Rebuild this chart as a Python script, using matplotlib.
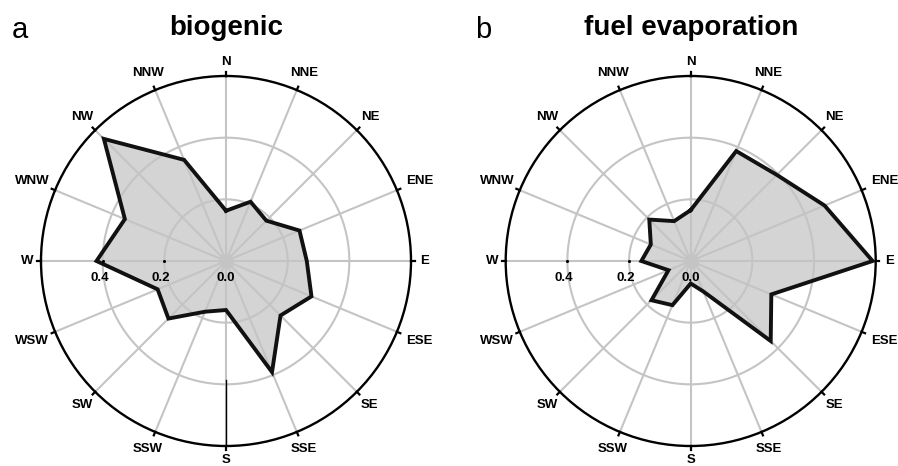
import numpy as np
import matplotlib
matplotlib.use("Agg")
import matplotlib.pyplot as plt

plt.rcParams['font.family'] = ['Liberation Sans', 'DejaVu Sans']

directions = ['N', 'NNE', 'NE', 'ENE', 'E', 'ESE', 'SE', 'SSE',
              'S', 'SSW', 'SW', 'WSW', 'W', 'WNW', 'NW', 'NNW']
biogenic = [0.163, 0.208, 0.185, 0.258, 0.262, 0.30, 0.25, 0.39,
            0.159, 0.178, 0.264, 0.24, 0.42, 0.355, 0.56, 0.355]
fuel_evaporation = [0.165, 0.386, 0.395, 0.47, 0.59, 0.283, 0.367, 0.107,
                    0.073, 0.155, 0.18, 0.078, 0.16, 0.14, 0.19, 0.14]
tick_values = [0.4, 0.2, 0.0]
tick_labels = ['0.4', '0.2', '0.0']
titles = ['biogenic', 'fuel evaporation']
letters = ['a', 'b']
rmax = 0.6

fig = plt.figure(figsize=(8.98, 4.66), dpi=100)
W, H = 898, 466
R = 185
centers = [(226, 261), (690.7, 261)]
grid_c = '#c4c4c4'

theta = np.deg2rad(np.arange(16) * 22.5)

for k, (vals, title, letter) in enumerate(zip([biogenic, fuel_evaporation], titles, letters)):
    cx, cy = centers[k]
    ax = fig.add_axes([(cx - R) / W, (H - cy - R) / H, 2 * R / W, 2 * R / H], polar=True)
    ax.set_theta_zero_location('N')
    ax.set_theta_direction(-1)
    ax.set_ylim(0, rmax)
    ax.grid(False)
    ax.set_xticks([])
    ax.set_yticks([])
    ax.spines['polar'].set_linewidth(1.7)
    ax.spines['polar'].set_color('black')

    v = np.array(vals)
    th = np.append(theta, theta[0])
    rv = np.append(v, v[0])
    ax.fill(th, rv, color='#d4d4d4', zorder=1, lw=0)

    # grid circles
    tt = np.linspace(0, 2 * np.pi, 400)
    for rr in [0.2, 0.4]:
        ax.plot(tt, np.full_like(tt, rr), color=grid_c, lw=1.5, zorder=2)
    # spokes
    for t in theta:
        ax.plot([t, t], [0, rmax], color=grid_c, lw=1.5, zorder=2)
    # centre disk
    ax.scatter([0], [0], s=120, color=grid_c, zorder=2, lw=0)

    ax.plot(th, rv, color='#111111', lw=2.8, zorder=4, solid_joinstyle='miter')

    # outer tick marks
    for t in theta:
        ax.plot([t, t], [rmax, rmax * 1.02], color='black', lw=1.6, zorder=5, clip_on=False)

    # direction labels
    for t, lab in zip(theta, directions):
        if lab in ('N', 'S'):
            rr = 0.645
        elif lab in ('E', 'W'):
            rr = 0.645
        elif len(lab) == 3 and lab[0] in 'EW':
            rr = 0.68
        else:
            rr = 0.66
        ax.text(t, rr, lab, ha='center', va='center', fontsize=9.5, fontweight='bold',
                clip_on=False, zorder=6)

    # radial tick labels on the W spoke
    tw = np.deg2rad(270)
    for tv, tl in zip(tick_values, tick_labels):
        if tv > 0:
            ax.scatter([tw], [tv], s=5, color='black', zorder=5, lw=0)
        ax.annotate(tl, xy=(tw, tv + 0.01 if tv > 0 else 0), xytext=(0, -12),
                    textcoords='offset points', ha='center', va='center',
                    fontsize=9.5, fontweight='bold', zorder=6)

    if k == 0:
        # thin black segment along S
        ax.plot([np.pi, np.pi], [0.386, rmax], color='black', lw=1.0, zorder=5)

    fig.text(cx / W, 1 - 28 / H, title, ha='center', va='center',
             fontsize=20, fontweight='bold')
    fig.text((12 if k == 0 else 475) / W, 1 - 30 / H, letter, ha='left', va='center',
             fontsize=21)

fig.savefig('out.png', dpi=100)
